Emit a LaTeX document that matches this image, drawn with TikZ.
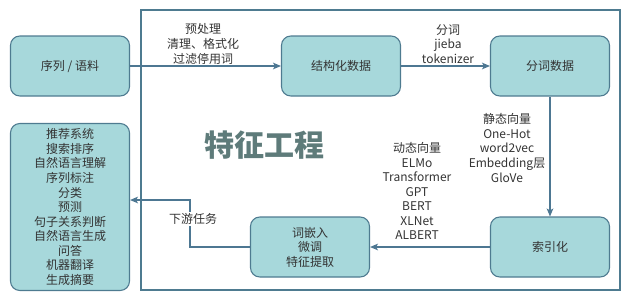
\documentclass[tikz,border=0pt]{standalone}
\usepackage{fontspec}
\setmainfont{Noto Sans CJK SC}
\usepackage{xcolor}
\usetikzlibrary{positioning,arrows.meta}

\definecolor{boxfill}{HTML}{A7D8DB}
\definecolor{boxline}{HTML}{4E7B90}
\definecolor{arrowcol}{HTML}{4D7792}
\definecolor{titlecol}{HTML}{5E7B7A}
\definecolor{textcol}{HTML}{333333}

\begin{document}
\begin{tikzpicture}[x=0.75pt, y=-0.75pt, >={Stealth[length=6pt, width=5pt, inset=1.5pt]},
    every node/.style={font=\fontsize{9}{10.9}\selectfont, text=textcol, align=center, inner sep=1pt}]
  \def\bw{89.25pt}
  \def\bh{45pt}
  \tikzset{
    databox/.style={draw=boxline, line width=0.8pt, fill=boxfill, rounded corners=7pt,
                    minimum width=\bw, minimum height=\bh},
    flow/.style={->, draw=arrowcol, line width=0.9pt}
  }
  \useasboundingbox (0,0) rectangle (631,301);

  % outer frame
  \node[draw=boxline, line width=0.8pt, minimum width=359.25pt, minimum height=210pt,
        inner sep=0pt] (frame) at (380.5,150) {};

  \node[databox] (src) at (70,66) {序列 / 语料};
  \node[databox] (struct) at (341,66) {结构化数据};
  \node[databox] (seg) at (550,66) {分词数据};
  \node[databox] (idx) at (550,247) {索引化};
  \node[databox] (emb) at (310,247) {词嵌入\\微调\\特征提取};
  \node[databox, minimum height=125.25pt] (tasks) at (70,207)
      {推荐系统\\搜索排序\\自然语言理解\\序列标注\\分类\\预测\\句子关系判断\\自然语言生成\\问答\\机器翻译\\生成摘要};

  \node[font=\fontsize{22.5}{27}\selectfont\bfseries, text=titlecol] (title) at (264,145) {特征工程};

  \draw[flow] (src) -- (struct);
  \draw[flow] (struct) -- (seg);
  \draw[flow] (seg) -- (idx);
  \draw[flow] (idx) -- (emb);
  \coordinate (bend) at (190,200);
  \draw[flow] (emb.west) -| (bend) -- (tasks.east |- bend);

  \node (prep) at (203,44) {预处理\\清理、格式化\\过滤停用词};
  \node (tok) at (448,44) {分词\\jieba\\tokenizer};
  \node (static) at (507,148) {静态向量\\One-Hot\\word2vec\\Embedding层\\GloVe};
  \node (dynamic) at (417,191) {动态向量\\ELMo\\Transformer\\GPT\\BERT\\XLNet\\ALBERT};
  \node[fill=white] (down) at (193,219) {下游任务};
\end{tikzpicture}
\end{document}
